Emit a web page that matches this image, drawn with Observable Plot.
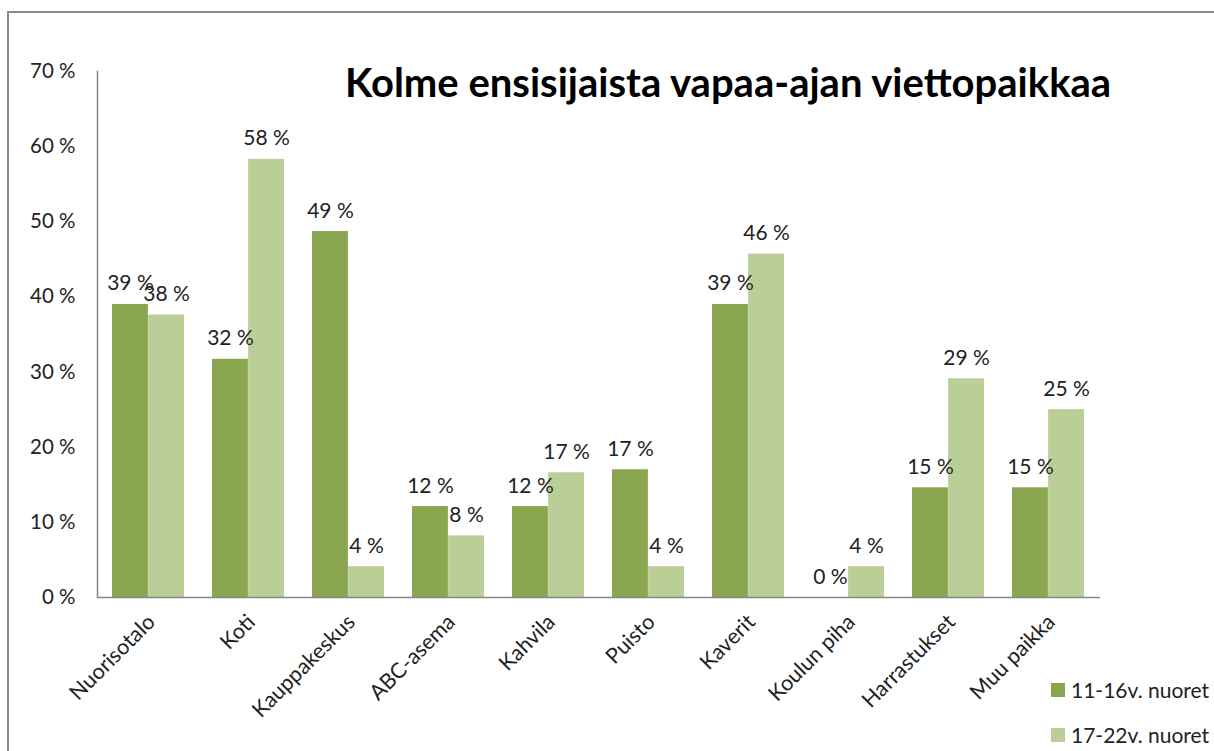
<!DOCTYPE html>
<html><head><meta charset="utf-8">
<script src="https://cdn.jsdelivr.net/npm/d3@7"></script>
<script src="https://cdn.jsdelivr.net/npm/@observablehq/plot@0.6"></script>
<style>
body{margin:0;background:#fff;font-family:Lato,"Open Sans",sans-serif;}
#wrap{position:relative;width:1214px;height:751px;overflow:hidden;background:#fff;}
#border{position:absolute;left:7px;top:11px;width:1300px;height:800px;border-left:2px solid #888;border-top:2px solid #888;}
#chart{position:absolute;left:0;top:0;}
#title{position:absolute;left:345px;top:58px;font-weight:bold;font-size:40px;color:#000;white-space:nowrap;letter-spacing:0;}
.legend{position:absolute;left:1051px;font-size:21px;color:#222;display:flex;align-items:center;white-space:nowrap;}
.sw{width:14px;height:14px;margin-right:6px;}
</style></head><body>
<div id="wrap">
<div id="border"></div>
<div id="chart"></div>
<div id="title"></div>
<div id="legend"></div>
</div>
<script>
const categories = ["Nuorisotalo","Koti","Kauppakeskus","ABC-asema","Kahvila","Puisto","Kaverit","Koulun piha","Harrastukset","Muu paikka"];
const seriesNames = ["11-16v. nuoret","17-22v. nuoret"];
const youngerValues = [39.0, 31.7, 48.7, 12.1, 12.1, 17.0, 39.0, 0, 14.6, 14.6];
const olderValues = [37.6, 58.3, 4.1, 8.2, 16.6, 4.1, 45.7, 4.1, 29.1, 25.0];
const seriesColors = ["#8aa64f", "#bacf97"];
const yTicks = [0, 10, 20, 30, 40, 50, 60, 70];
const titleText = "Kolme ensisijaista vapaa-ajan viettopaikkaa";

const W = 1214, H = 751;
const mL = 97, mR = 114, mT = 71, mB = 154;
const padIn = 0.28, padOut = 0.14;
const step = (W - mL - mR) / (categories.length - padIn + 2 * padOut);
const half = step * (1 - padIn) / 2;

const younger = categories.map((c, i) => ({category: c, series: seriesNames[0], value: youngerValues[i]}));
const older = categories.map((c, i) => ({category: c, series: seriesNames[1], value: olderValues[i]}));
const fmt = d => Math.round(d.value) + " %";

const chart = Plot.plot({
  width: W, height: H,
  marginLeft: mL, marginRight: mR, marginTop: mT, marginBottom: mB,
  style: {fontFamily: "Lato, 'Open Sans', sans-serif", background: "transparent", color: "#222"},
  x: {domain: categories, paddingInner: padIn, paddingOuter: padOut},
  y: {domain: [0, 70]},
  marks: [
    Plot.barY(younger, {x: "category", y: "value", fill: seriesColors[0], insetRight: half}),
    Plot.barY(older, {x: "category", y: "value", fill: seriesColors[1], insetLeft: half}),
    Plot.text(younger, {x: "category", y: "value", text: fmt, dx: -half / 2, dy: -14, lineAnchor: "bottom", fontSize: 21, fill: "#222"}),
    Plot.text(older, {x: "category", y: "value", text: fmt, dx: half / 2, dy: -14, lineAnchor: "bottom", fontSize: 21, fill: "#222"}),
    Plot.ruleY([0], {stroke: "#888", strokeWidth: 1.5}),
    Plot.frame({anchor: "left", stroke: "#888", strokeWidth: 1.5}),
    Plot.axisY({ticks: yTicks, tickFormat: d => d + " %", tickSize: 0, tickPadding: 22, fontSize: 20.5, label: null}),
    Plot.axisX({tickSize: 0, tickRotate: -45, tickPadding: 21, fontSize: 21.5, label: null, dx: 3})
  ]
});
document.getElementById("chart").appendChild(chart);
document.getElementById("title").textContent = titleText;

const leg = document.getElementById("legend");
seriesNames.forEach((s, i) => {
  const d = document.createElement("div");
  d.className = "legend";
  d.style.top = (677 + i * 45) + "px";
  const sw = document.createElement("span");
  sw.className = "sw"; sw.style.background = seriesColors[i];
  const t = document.createElement("span"); t.textContent = s;
  d.appendChild(sw); d.appendChild(t);
  leg.appendChild(d);
});
</script>
</body></html>
